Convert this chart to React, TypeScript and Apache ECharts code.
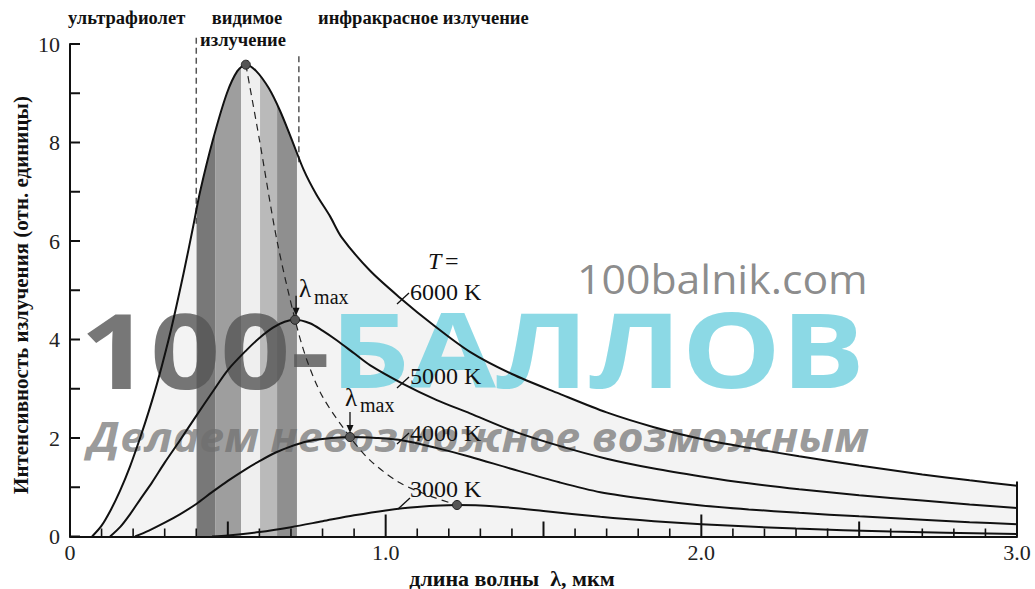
import React, { useEffect, useRef } from "react";
import * as echarts from "echarts";

const SERIF = '"Liberation Serif", "DejaVu Serif", serif';
const SANS = '"Open Sans", "Noto Sans", sans-serif';

// Radiation intensity curves (x: wavelength µm, y: relative units)
const curve6000: number[][] = [
  [0.07, 0], [0.1, 0.22], [0.13, 0.55], [0.158, 0.92], [0.19, 1.42], [0.222, 2.0], [0.25, 2.55],
  [0.279, 3.18], [0.32, 4.2], [0.36, 5.35], [0.39, 6.29], [0.412, 7.0], [0.453, 8.06], [0.497, 9.0],
  [0.53, 9.45], [0.557, 9.58], [0.59, 9.45], [0.63, 9.1], [0.665, 8.65], [0.7, 8.1], [0.74, 7.45],
  [0.78, 6.95], [0.824, 6.5], [0.86, 6.08], [0.95, 5.4], [1.045, 4.85], [1.15, 4.3], [1.267, 3.75],
  [1.4, 3.3], [1.55, 2.9], [1.7, 2.52], [1.85, 2.22], [2.0, 1.98], [2.15, 1.8], [2.31, 1.63],
  [2.5, 1.44], [2.7, 1.26], [2.85, 1.14], [3.0, 1.03],
];
const curve5000: number[][] = [
  [0.127, 0], [0.16, 0.2], [0.19, 0.45], [0.222, 0.75], [0.26, 1.1], [0.3, 1.5], [0.348, 1.95],
  [0.4, 2.45], [0.453, 2.95], [0.5, 3.38], [0.56, 3.79], [0.6, 4.03], [0.643, 4.24], [0.68, 4.36],
  [0.713, 4.4], [0.76, 4.33], [0.8, 4.18], [0.846, 3.98], [0.9, 3.72], [0.95, 3.48], [1.055, 3.1],
  [1.162, 2.77], [1.267, 2.5], [1.4, 2.15], [1.55, 1.84], [1.7, 1.58], [1.85, 1.38], [2.0, 1.22],
  [2.15, 1.08], [2.31, 0.96], [2.5, 0.84], [2.7, 0.73], [2.85, 0.65], [3.0, 0.58],
];
const curve4000: number[][] = [
  [0.206, 0], [0.25, 0.12], [0.3, 0.28], [0.348, 0.45], [0.4, 0.66], [0.45, 0.9], [0.5, 1.13],
  [0.56, 1.38], [0.6, 1.53], [0.65, 1.7], [0.7, 1.83], [0.75, 1.93], [0.8, 1.98], [0.887, 2.02],
  [0.97, 2.0], [1.055, 1.95], [1.16, 1.8], [1.267, 1.62], [1.4, 1.37], [1.55, 1.1], [1.68, 0.9],
  [1.85, 0.74], [2.0, 0.63], [2.15, 0.55], [2.31, 0.48], [2.5, 0.41], [2.7, 0.34], [2.85, 0.29],
  [3.0, 0.25],
];
const curve3000: number[][] = [
  [0.45, 0], [0.5, 0.02], [0.6, 0.09], [0.7, 0.19], [0.8, 0.31], [0.9, 0.43], [1.0, 0.53],
  [1.1, 0.6], [1.226, 0.64], [1.35, 0.61], [1.5, 0.52], [1.68, 0.4], [1.85, 0.31], [2.0, 0.25],
  [2.3, 0.16], [2.6, 0.1], [3.0, 0.05],
];
// Wien displacement path through the maxima
const lambdaMaxPath: number[][] = [
  [0.557, 9.58], [0.6, 8.06], [0.655, 6.03], [0.713, 4.4], [0.75, 3.59], [0.8, 2.84], [0.887, 2.02],
  [0.95, 1.55], [1.045, 1.09], [1.15, 0.8], [1.226, 0.64],
];
const peakPoints: number[][] = [[0.557, 9.58], [0.713, 4.4], [0.887, 2.02], [1.226, 0.64]];

// Visible band stripes
const stripeEdges = [0.401, 0.461, 0.542, 0.602, 0.656, 0.719];
const stripeColors = ["#787878", "#9e9e9e", "#efefef", "#bababa", "#8f8f8f"];
const visibleBounds = [0.4, 0.725];

// Axis ticks
const xTickValues = Array.from({ length: 31 }, (_, i) => i / 10);
const yTickValues = [0, 1, 2, 3, 4, 5, 6, 7, 8, 9, 10];
const xLabelValues = [0, 1, 2, 3];
const xLabelTexts = ["0", "1.0", "2.0", "3.0"];
const yLabelValues = [0, 2, 4, 6, 8, 10];
const temperatureLabels = ["6000 K", "5000 K", "4000 K", "3000 K"];
const regionLabels = ["ультрафиолет", "видимое", "излучение", "инфракрасное излучение"];
const yAxisTitle = "Интенсивность излучения (отн. единицы)";
const xAxisTitle = "длина волны  λ, мкм";

const W = 1035, H = 589;
const GRID = { left: 70, right: 18, top: 44, bottom: 52.5 };

export default function App() {
  const ref = useRef<HTMLDivElement>(null);

  useEffect(() => {
    const chart = echarts.init(ref.current!, null, { renderer: "svg" });
    const curve = (data: number[][]) => ({
      type: "line",
      data,
      smooth: 0.3,
      symbol: "none",
      silent: true,
      lineStyle: { color: "#111", width: 2 },
      z: 10,
    });

    // pixel lengths of ticks converted to axis units
    const unitX = 3 / (W - GRID.left - GRID.right);
    const unitY = 10 / (H - GRID.top - GRID.bottom);
    const tickSeries = (a: number[], b: number[], width: number) => ({
      type: "line", data: [a, b], symbol: "none", silent: true, clip: false, z: 11,
      lineStyle: { color: "#111", width, cap: "butt" },
    });
    const ticks: any[] = [
      ...xTickValues.map((v, i) => {
        const len = i % 10 === 0 ? 22 : i % 5 === 0 ? 15 : 8;
        return tickSeries([v, 0], [v, len * unitY], i % 5 === 0 ? 2 : 1.6);
      }),
      tickSeries([3, 0], [3, 55 * unitY], 2),
      ...yTickValues.map((v) => tickSeries([0, v], [10 * unitX, v], 2)),
    ];

    chart.setOption({
      animation: false,
      grid: { ...GRID, show: true, backgroundColor: "#f3f3f3", borderWidth: 0, z: 0 },
      xAxis: {
        type: "value", min: 0, max: 3, interval: 0.5, z: 20,
        axisLine: { show: true, lineStyle: { color: "#111", width: 2 } },
        axisTick: { show: false },
        splitLine: { show: false },
        axisLabel: {
          show: true, margin: 5, fontFamily: SERIF, fontSize: 22, color: "#222",
          formatter: (v: number) => {
            const i = xLabelValues.findIndex((t) => Math.abs(t - v) < 1e-6);
            return i >= 0 ? xLabelTexts[i] : "";
          },
        },
      },
      yAxis: {
        type: "value", min: 0, max: 10, interval: 1, z: 20,
        axisLine: { show: true, lineStyle: { color: "#111", width: 2 } },
        axisTick: { show: false },
        splitLine: { show: false },
        axisLabel: {
          show: true, margin: 10, fontFamily: SERIF, fontSize: 22, color: "#222",
          formatter: (v: number) => (yLabelValues.includes(v) ? String(v) : ""),
        },
      },
      series: [
        {
          type: "line", data: [[0, 0]], symbol: "none", silent: true, z: 1,
          lineStyle: { opacity: 0 },
          markArea: {
            silent: true,
            data: stripeColors.map((c, i) => [
              { xAxis: stripeEdges[i], yAxis: 0, itemStyle: { color: c, opacity: 1 } },
              { xAxis: stripeEdges[i + 1], yAxis: 10 },
            ]),
          },
        },
        {
          type: "line", data: [[0, 0], ...curve6000], smooth: 0.3, symbol: "none", silent: true, z: 2,
          lineStyle: { width: 0 },
          areaStyle: { color: "#ffffff", opacity: 1, origin: "end" },
        },
        curve(curve6000),
        curve(curve5000),
        curve(curve4000),
        curve(curve3000),
        {
          type: "line", data: lambdaMaxPath, smooth: 0.3, symbol: "none", silent: true, z: 9,
          lineStyle: { color: "#222", width: 1.2, type: [7, 5] },
        },
        {
          type: "scatter", data: peakPoints, symbolSize: 9, silent: true, z: 12,
          itemStyle: { color: "#555", borderColor: "#222", borderWidth: 1, opacity: 1 },
        },
        ...ticks,
      ],
    });

    const p = (x: number, y: number) =>
      chart.convertToPixel({ xAxisIndex: 0, yAxisIndex: 0 }, [x, y]) as number[];

    const txt = (x: number, y: number, text: string, extra: any = {}, z = 30) => ({
      type: "text", x, y, z, silent: true,
      style: {
        text, fill: "#111", fontFamily: SERIF, fontSize: 24,
        textAlign: "left", textVerticalAlign: "middle", ...extra,
      },
    });
    const seg = (a: number[], b: number[], extra: any = {}, z = 30) => ({
      type: "line", z, silent: true,
      shape: { x1: a[0], y1: a[1], x2: b[0], y2: b[1] },
      style: { stroke: "#111", lineWidth: 1.3, ...extra },
    });

    const vL0 = p(visibleBounds[0], 6.35), vL1 = p(visibleBounds[0], 10.16);
    const vR0 = p(visibleBounds[1], 7.6), vR1 = p(visibleBounds[1], 9.75);
    const pk5 = p(peakPoints[1][0], peakPoints[1][1]);
    const pk4 = p(peakPoints[2][0], peakPoints[2][1]);

    const bold = { fontWeight: "bold", fontSize: 18.5 };
    const wm: any[] = [
      {
        ...txt(577, 279, "100balnik.com", { fontFamily: SANS, fontSize: 40, fill: "rgba(120,120,120,0.85)" }, 6),
        scaleX: 1.07,
      },
      {
        ...txt(80, 348, "100-", { fontFamily: SANS, fontSize: 104, fontWeight: "bold", fill: "rgba(85,85,85,0.8)" }, 6),
        scaleX: 1.18,
      },
      {
        ...txt(330, 348, "БАЛЛОВ", { fontFamily: SANS, fontSize: 104, fontWeight: "bold", fill: "rgba(120,210,224,0.85)" }, 6),
        scaleX: 1.2,
      },
      {
        ...txt(88, 436, "Делаем невозможное возможным", {
          fontFamily: SANS, fontSize: 42, fontStyle: "italic", fontWeight: "bold", fill: "rgba(110,110,110,0.7)",
        }, 6),
        scaleX: 1.065,
      },
    ];

    chart.setOption({
      graphic: [
        ...wm,
        seg(vL0, vL1, { stroke: "#555", lineWidth: 1.5, lineDash: [6, 4] }, 8),
        seg(vR0, vR1, { stroke: "#555", lineWidth: 1.5, lineDash: [6, 4] }, 8),
        txt(68, 18, regionLabels[0], bold),
        txt(247, 18, regionLabels[1], { ...bold, textAlign: "center" }),
        txt(243, 40, regionLabels[2], { ...bold, textAlign: "center" }),
        txt(318, 18, regionLabels[3], bold),
        {
          type: "text", x: 21, y: 295, rotation: Math.PI / 2, z: 30, silent: true,
          style: {
            text: yAxisTitle, fill: "#111", fontFamily: SERIF, fontSize: 21, fontWeight: "bold",
            textAlign: "center", textVerticalAlign: "middle",
          },
        },
        txt(512, 578, xAxisTitle, { fontWeight: "bold", fontSize: 22, textAlign: "center" }),
        txt(428, 261, "T", { fontStyle: "italic" }),
        txt(445, 261, "="),
        txt(410, 292, temperatureLabels[0]),
        txt(410, 376, temperatureLabels[1]),
        txt(410, 433, temperatureLabels[2]),
        txt(410, 489, temperatureLabels[3]),
        seg([397, 304], [409, 293]),
        seg([397, 388], [409, 377]),
        seg([397, 444], [409, 433]),
        seg([398, 509], [410, 498]),
        // lambda max labels and arrows
        txt(pk5[0] + 4, pk5[1] - 31, "λ", { fontSize: 25 }),
        txt(pk5[0] + 19, pk5[1] - 23, "max", { fontSize: 20 }),
        seg([pk5[0] + 1, pk5[1] - 24], [pk5[0] + 1, pk5[1] - 8], { lineWidth: 1.3 }),
        {
          type: "polygon", z: 30, silent: true,
          shape: { points: [[pk5[0] - 2.5, pk5[1] - 12], [pk5[0] + 4.5, pk5[1] - 12], [pk5[0] + 1, pk5[1] - 4]] },
          style: { fill: "#111" },
        },
        txt(pk4[0] - 5, pk4[1] - 40, "λ", { fontSize: 25 }),
        txt(pk4[0] + 10, pk4[1] - 32, "max", { fontSize: 20 }),
        seg([pk4[0], pk4[1] - 25], [pk4[0], pk4[1] - 8], { lineWidth: 1.3 }),
        {
          type: "polygon", z: 30, silent: true,
          shape: { points: [[pk4[0] - 3.5, pk4[1] - 12], [pk4[0] + 3.5, pk4[1] - 12], [pk4[0], pk4[1] - 4]] },
          style: { fill: "#111" },
        },
      ],
    });

    return () => chart.dispose();
  }, []);

  return (
    <div
      ref={ref}
      style={{ position: "fixed", left: 0, top: 0, width: W, height: H, background: "#fff" }}
    />
  );
}
